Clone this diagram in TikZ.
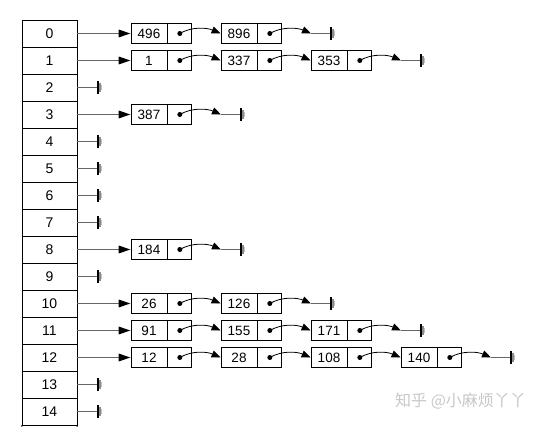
\documentclass[tikz,border=0pt]{standalone}
\usepackage{fontspec}
\setmainfont{Liberation Sans}
\newfontfamily\cjkfont{Noto Sans CJK SC}
\usetikzlibrary{arrows.meta}
\begin{document}
\begin{tikzpicture}[x=1pt,y=-1pt,
  cell/.style={draw,line width=0.8pt,minimum width=55pt,minimum height=27pt,inner sep=0pt,font=\fontsize{14}{14}\selectfont},
  val/.style={draw,line width=0.8pt,minimum width=36pt,minimum height=20pt,inner sep=0pt,font=\fontsize{13.5}{14}\selectfont},
  ptr/.style={draw,line width=0.8pt,minimum width=24pt,minimum height=20pt,inner sep=0pt},
  headarrow/.style={draw=black!60,line width=1.6pt,-{Triangle[length=12pt,width=7.5pt,color=black]}},
  linkarrow/.style={line width=0.8pt,-{Triangle[length=9pt,width=7pt]}},
  dotc/.style={circle,fill,inner sep=0pt,minimum size=5pt},
  nilline/.style={draw=black!60,line width=1.6pt},
  ground/.pic={
    \draw[line width=1.8pt,black] (0,-6.5) -- (0,6.5);
    \draw[line width=1.1pt,black!45] (2,-4.5) -- (2,4.5);
    \draw[line width=1.1pt,black!25] (3.6,-2.5) -- (3.6,2.5);
  }
]
\useasboundingbox (0,0) rectangle (545,427);

% table
\foreach \i in {0,...,14}
  \node[cell] (t\i) at (49.5,{33.5+27*\i}) {\i};
\coordinate (tl) at (22,427);
\coordinate (tr) at (77,427);
\draw[line width=0.8pt] (t14.south west) -- (tl);
\draw[line width=0.8pt] (t14.south east) -- (tr);

% empty buckets
\foreach \r in {2,4,5,6,7,9,13,14}{
  \coordinate (g\r) at (98,{33.5+27*\r});
  \draw[nilline] (t\r.east) -- (g\r);
  \pic at (g\r) {ground};
}

% chains
\foreach \r/\n/\lst in {0/2/{496,896},1/3/{1,337,353},3/1/{387},8/1/{184},10/2/{26,126},11/3/{91,155,171},12/4/{12,28,108,140}}{
  \foreach [count=\k] \v in \lst {
    \node[val] (v\r-\k) at ({149+90*(\k-1)},{33.5+27*\r}) {\v};
    \node[ptr,anchor=west] (p\r-\k) at (v\r-\k.east) {};
    \node[dotc] (d\r-\k) at (p\r-\k.center) {};
  }
  \draw[headarrow] (t\r.east) -- (v\r-1.west);
  \ifnum\n>1
    \foreach \k [evaluate=\k as \pk using int(\k-1)] in {2,...,\n}
      \draw[linkarrow] (d\r-\pk.center) .. controls +(12,-7) and +(-14,-6) .. (v\r-\k.west);
  \fi
  \coordinate (a\r) at ({131+90*\n},{33.5+27*\r});
  \coordinate (g\r) at ({151+90*\n},{33.5+27*\r});
  \draw[linkarrow] (d\r-\n.center) .. controls +(12,-7) and +(-14,-6) .. (a\r);
  \draw[nilline] (a\r) -- (g\r);
  \pic at (g\r) {ground};
}

% watermark
\node[anchor=west,inner sep=0pt,text=black!22,font=\cjkfont\fontsize{16}{16}\selectfont] (wm) at (395,401) {知乎 @小麻烦丫丫};
\end{tikzpicture}
\end{document}
